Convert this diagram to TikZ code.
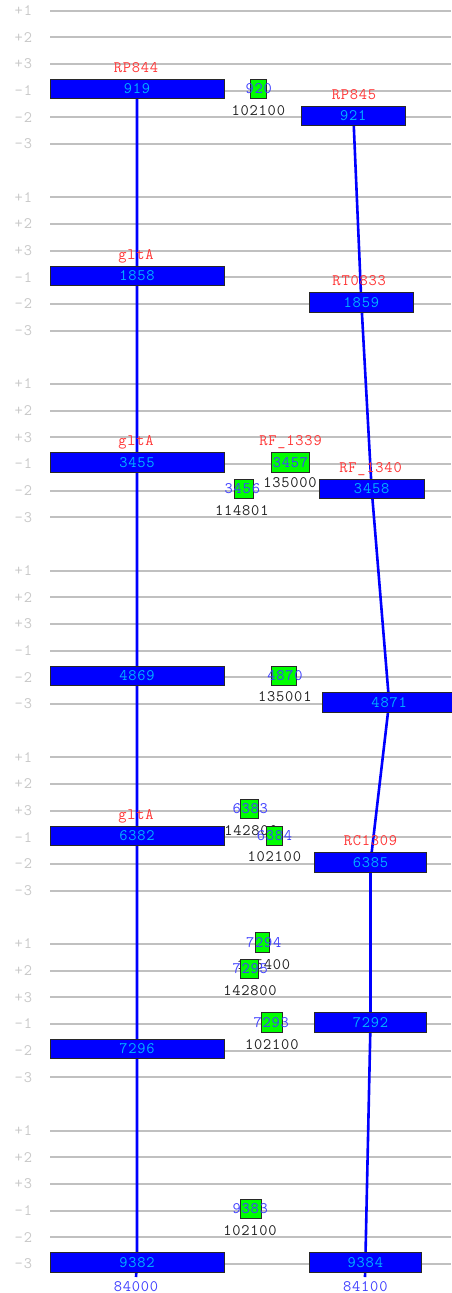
\documentclass[tikz,border=0pt]{standalone}
\usepackage{fontspec}
\setmonofont[LetterSpace=5]{Latin Modern Mono}
\usetikzlibrary{backgrounds}
\definecolor{gridc}{RGB}{192,192,192}
\definecolor{lanec}{RGB}{200,200,200}
\definecolor{geneblue}{RGB}{0,0,255}
\definecolor{genetext}{RGB}{0,180,255}
\definecolor{numblue}{RGB}{64,64,255}
\definecolor{redlab}{RGB}{255,55,55}
\definecolor{darktext}{RGB}{34,34,34}
\definecolor{boxline}{RGB}{40,40,40}
\definecolor{gbfill}{RGB}{0,255,0}
\begin{document}
\begin{tikzpicture}[x=1pt,y=-1pt,
  every node/.style={font=\ttfamily\fontsize{16}{17}\selectfont, inner sep=0pt, outer sep=0pt},
  gene/.style={draw=boxline, line width=0.9pt, fill=geneblue, minimum height=19.3pt, text=genetext},
  gbox/.style={draw=boxline, line width=0.9pt, fill=gbfill, minimum height=19.3pt},
  gnum/.style={text=numblue},
  glab/.style={text=redlab, anchor=base},
  sublab/.style={text=darktext, anchor=base},
  axlab/.style={text=numblue, anchor=base},
  lanelab/.style={text=lanec, anchor=base east},
  gridline/.style={draw=gridc, line width=2.2pt},
  conn/.style={draw=geneblue, line width=2.6pt}]
\useasboundingbox (0,0) rectangle (451,1293);

% ---- block 0
\node[glab] (l919) at (136,72.4) {RP844};
\node[gene, minimum width=174pt] (g919) at (137,89.07) {919};
\node[gbox, minimum width=16.7pt] (g920) at (258.35,89.07) {};
\node[gnum] (t920) at (258.8,89.07) {920};
\node[sublab] (s920) at (258.3,115.4) {102100};
\node[glab] (l921) at (354,99.0) {RP845};
\node[gene, minimum width=104.7pt] (g921) at (353.35,115.73) {921};

% ---- block 1
\node[glab] (l1858) at (136,259.0) {gltA};
\node[gene, minimum width=174pt] (g1858) at (137,275.73) {1858};
\node[glab] (l1859) at (359.2,285.7) {RT0833};
\node[gene, minimum width=104.7pt] (g1859) at (361.35,302.4) {1859};

% ---- block 2
\node[glab] (l3455) at (136,445.7) {gltA};
\node[gene, minimum width=174pt] (g3455) at (137,462.4) {3455};
\node[glab] (l3457) at (290.5,445.7) {RF\_1339};
\node[gbox, minimum width=37.6pt] (g3457) at (290.5,462.4) {};
\node[gnum] (t3457) at (290.5,462.4) {3457};
\node[sublab] (s3457) at (290,487.7) {135000};
\node[gbox, minimum width=19pt] (g3456) at (243.8,489.07) {};
\node[gnum] (t3456) at (242.3,489.07) {3456};
\node[sublab] (s3456) at (241.8,515) {114801};
\node[glab] (l3458) at (370.5,472.4) {RF\_1340};
\node[gene, minimum width=104.7pt] (g3458) at (371.65,489.07) {3458};

% ---- block 3
\node[gene, minimum width=174pt] (g4869) at (137,675.73) {4869};
\node[gbox, minimum width=24.3pt] (g4870) at (283.85,675.73) {};
\node[gnum] (t4870) at (285,675.73) {4870};
\node[sublab] (s4870) at (284.8,701.8) {135001};
\node[gene, minimum width=133.7pt] (g4871) at (389.15,702.4) {4871};

% ---- block 4
\node[gbox, minimum width=18.3pt] (g6383) at (249.15,809.07) {};
\node[gnum] (t6383) at (250.3,809.07) {6383};
\node[sublab] (s6383) at (251,835) {142800};
\node[glab] (l6382) at (136,819.0) {gltA};
\node[gene, minimum width=174pt] (g6382) at (137,835.73) {6382};
\node[gbox, minimum width=16pt] (g6384) at (274.7,835.73) {};
\node[gnum] (t6384) at (274.5,835.73) {6384};
\node[sublab] (s6384) at (274.3,861.7) {102100};
\node[glab] (l6385) at (370.5,845.7) {RC1309};
\node[gene, minimum width=112.4pt] (g6385) at (370.5,862.4) {6385};

% ---- block 5
\node[gbox, minimum width=13.6pt] (g7294) at (262.5,942.4) {};
\node[gnum] (t7294) at (263.7,942.4) {7294};
\node[sublab] (s7294) at (263.5,969) {135400};
\node[gbox, minimum width=18.3pt] (g7295) at (249.15,969.07) {};
\node[gnum] (t7295) at (250.3,969.07) {7295};
\node[sublab] (s7295) at (250,995) {142800};
\node[gbox, minimum width=21.4pt] (g7293) at (272,1022.4) {};
\node[gnum] (t7293) at (271.3,1022.4) {7293};
\node[sublab] (s7293) at (271.8,1049) {102100};
\node[gene, minimum width=112.4pt] (g7292) at (370.5,1022.4) {7292};
\node[gene, minimum width=174pt] (g7296) at (137,1049.07) {7296};

% ---- block 6
\node[gbox, minimum width=21.7pt] (g9383) at (250.85,1209.07) {};
\node[gnum] (t9383) at (250.3,1209.07) {9383};
\node[sublab] (s9383) at (250,1235) {102100};
\node[gene, minimum width=174pt] (g9382) at (137,1262.4) {9382};
\node[gene, minimum width=112.7pt] (g9384) at (365.35,1262.4) {9384};

% ---- axis
\node[axlab] (ax1) at (136,1291.5) {84000};
\node[axlab] (ax2) at (365.3,1291.5) {84100};
\coordinate (endL) at (136,1277);
\coordinate (endR) at (365,1277);

\begin{scope}[on background layer]
\foreach \k in {0,...,6}{
  \foreach \i/\t in {0/+1,1/+2,2/+3,3/-1,4/-2,5/-3}{
    \pgfmathsetmacro\yy{10.67+186.667*\k+26.667*\i}
    \draw[gridline] (50,\yy) -- (451,\yy);
    \node[lanelab] (lane\k\i) at (32,\yy+4.7) {\t};
  }
}
\draw[conn] (g919.center) -- (g1858.center) -- (g3455.center) -- (g4869.center)
  -- (g6382.center) -- (g7296.center) -- (g9382.center) -- (endL);
\draw[conn] (g921.center) -- (g1859.center) -- (g3458.center) -- (g4871.center)
  -- (g6385.center) -- (g7292.center) -- (g9384.center) -- (endR);
\end{scope}
\end{tikzpicture}
\end{document}
